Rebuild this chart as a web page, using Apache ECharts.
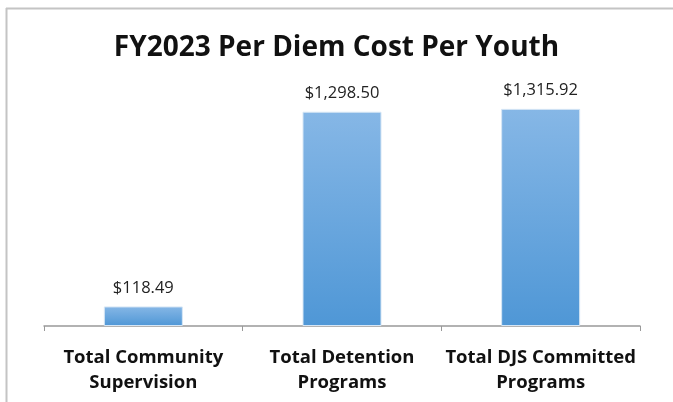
<!DOCTYPE html>
<html>
<head>
<meta charset="utf-8">
<script src="https://cdn.jsdelivr.net/npm/echarts@6/dist/echarts.min.js"></script>
<style>
html,body{margin:0;padding:0;background:#fff;}
#c{width:673px;height:402px;}
</style>
</head>
<body>
<div id="c"></div>
<script>
const titleText = 'FY2023 Per Diem Cost Per Youth';
const categories = ['Total Community\nSupervision', 'Total Detention\nPrograms', 'Total DJS Committed\nPrograms'];
const values = [118.49, 1298.50, 1315.92];
const labels = ['$118.49', '$1,298.50', '$1,315.92'];

const chart = echarts.init(document.getElementById('c'), null, {renderer: 'canvas'});
chart.setOption({
  animation: false,
  backgroundColor: '#fff',
  title: {
    text: titleText,
    left: 'center',
    top: 29,
    textStyle: {fontFamily: 'Open Sans', fontWeight: 'bold', fontSize: 28, color: '#111'}
  },
  graphic: [
    {type: 'line', shape: {x1: 6, y1: 8.5, x2: 673, y2: 8.5}, style: {stroke: '#c4c4c4', lineWidth: 2}},
    {type: 'line', shape: {x1: 6.5, y1: 8, x2: 6.5, y2: 402}, style: {stroke: '#c4c4c4', lineWidth: 2}}
  ],
  grid: {left: 44, right: 33, top: 95, bottom: 76, containLabel: false},
  xAxis: {
    type: 'category',
    data: categories,
    axisLine: {lineStyle: {color: '#999', width: 1.5}},
    axisTick: {show: true, length: 5, lineStyle: {color: '#999'}},
    axisLabel: {
      interval: 0,
      margin: 19,
      fontFamily: 'Open Sans',
      fontWeight: 'bold',
      fontSize: 18.5,
      lineHeight: 25,
      color: '#111'
    }
  },
  yAxis: {
    type: 'value',
    min: 0,
    max: 1400,
    show: false,
    splitLine: {show: false}
  },
  series: [{
    type: 'bar',
    data: values,
    barWidth: 79,
    itemStyle: {
      color: new echarts.graphic.LinearGradient(0, 0, 0, 1, [
        {offset: 0, color: '#86b7e6'},
        {offset: 1, color: '#4f97d6'}
      ]),
      borderColor: '#d6e6f5',
      borderWidth: 1
    },
    label: {
      show: true,
      position: 'top',
      distance: 10,
      fontFamily: 'Open Sans',
      fontSize: 16.5,
      color: '#222',
      formatter: p => labels[p.dataIndex]
    }
  }]
});
</script>
</body>
</html>
